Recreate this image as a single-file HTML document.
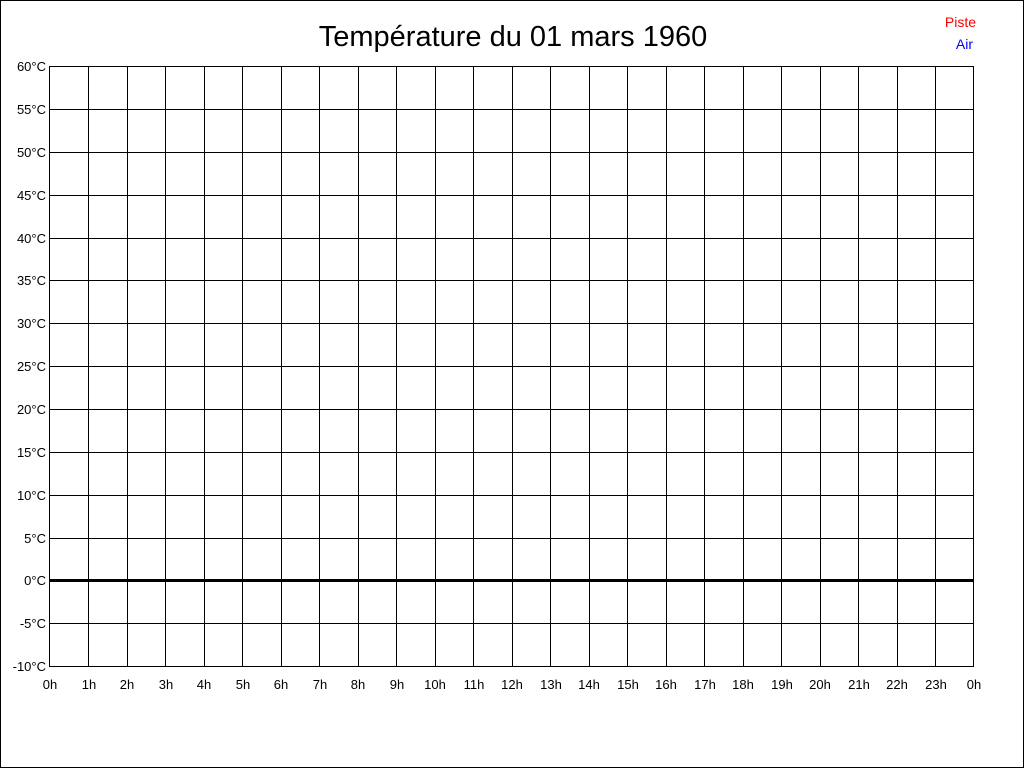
<!DOCTYPE html>
<html><head><meta charset="utf-8"><style>
html,body{margin:0;padding:0;background:#fff;}
svg{display:block;}
text{font-family:"Liberation Sans",Arial,sans-serif;font-size:13px;fill:#000;}
</style></head><body>
<svg width="1024" height="768" xmlns="http://www.w3.org/2000/svg">
<rect x="0.5" y="0.5" width="1023" height="767" fill="#fff" stroke="#000"/>
<text x="513" y="46" text-anchor="middle" style="font-size:29px">Température du 01 mars 1960</text>
<text x="976" y="27" text-anchor="end" style="fill:#f00;font-size:14px">Piste</text>
<text x="973" y="49" text-anchor="end" style="fill:#00f;font-size:14px">Air</text>
<g stroke="#000" stroke-width="1" shape-rendering="crispEdges">
<rect x="49.5" y="66.5" width="924" height="600" fill="none"/>
<path d="M88.5 66V666M127.5 66V666M165.5 66V666M204.5 66V666M242.5 66V666M281.5 66V666M319.5 66V666M358.5 66V666M396.5 66V666M435.5 66V666M473.5 66V666M512.5 66V666M550.5 66V666M589.5 66V666M627.5 66V666M666.5 66V666M704.5 66V666M743.5 66V666M781.5 66V666M820.5 66V666M858.5 66V666M897.5 66V666M935.5 66V666"/>
<path d="M49 109.5H974M49 152.5H974M49 195.5H974M49 238.5H974M49 280.5H974M49 323.5H974M49 366.5H974M49 409.5H974M49 452.5H974M49 495.5H974M49 538.5H974M49 623.5H974"/>
<rect x="49" y="579" width="925" height="3" fill="#000" stroke="none"/>
</g>
<g text-anchor="end">
<text x="46" y="71">60°C</text><text x="46" y="114">55°C</text><text x="46" y="157">50°C</text><text x="46" y="200">45°C</text><text x="46" y="243">40°C</text><text x="46" y="285">35°C</text><text x="46" y="328">30°C</text><text x="46" y="371">25°C</text><text x="46" y="414">20°C</text><text x="46" y="457">15°C</text><text x="46" y="500">10°C</text><text x="46" y="543">5°C</text><text x="46" y="585">0°C</text><text x="46" y="628">-5°C</text><text x="46" y="671">-10°C</text>
</g>
<g text-anchor="middle">
<text x="50" y="689">0h</text><text x="89" y="689">1h</text><text x="127" y="689">2h</text><text x="166" y="689">3h</text><text x="204" y="689">4h</text><text x="243" y="689">5h</text><text x="281" y="689">6h</text><text x="320" y="689">7h</text><text x="358" y="689">8h</text><text x="397" y="689">9h</text><text x="435" y="689">10h</text><text x="474" y="689">11h</text><text x="512" y="689">12h</text><text x="551" y="689">13h</text><text x="589" y="689">14h</text><text x="628" y="689">15h</text><text x="666" y="689">16h</text><text x="705" y="689">17h</text><text x="743" y="689">18h</text><text x="782" y="689">19h</text><text x="820" y="689">20h</text><text x="859" y="689">21h</text><text x="897" y="689">22h</text><text x="936" y="689">23h</text><text x="974" y="689">0h</text>
</g>
</svg>
</body></html>
